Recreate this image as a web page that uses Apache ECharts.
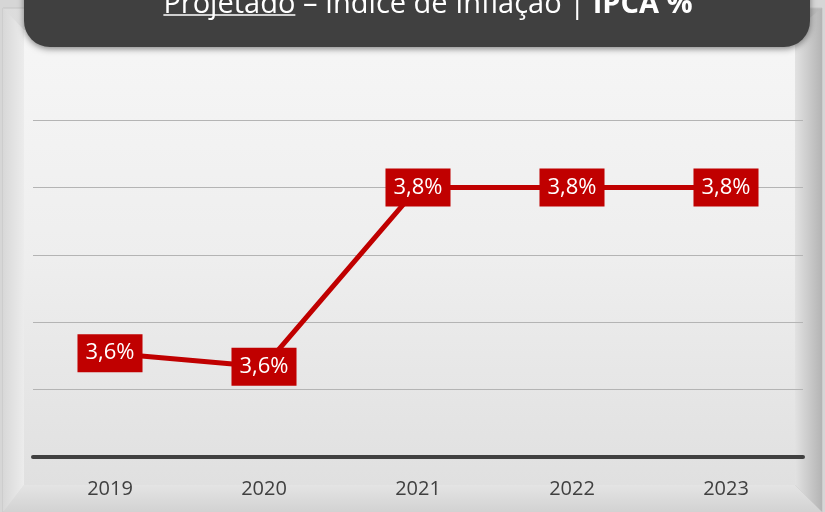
<!DOCTYPE html>
<html>
<head>
<meta charset="utf-8">
<script src="https://cdn.jsdelivr.net/npm/echarts@6/dist/echarts.min.js"></script>
<style>
  html, body { margin: 0; padding: 0; background: #d6d6d6; }
  #chart { width: 825px; height: 512px; }
</style>
</head>
<body>
<div id="chart"></div>
<script>
// dados
const anos = ['2019', '2020', '2021', '2022', '2023'];
const ipca = [3.627, 3.617, 3.75, 3.75, 3.75];
const eixoMin = 3.55, eixoMax = 3.80, eixoPasso = 0.05;

const tituloPartes = ['Projetado', ' – Índice de Inflação | ', 'IPCA %'];

const fonte = "'Open Sans', 'Noto Sans', sans-serif";
const tamTitulo = 29;

// mede o texto do título para posicionar as partes e o sublinhado
function medir(txt, peso) {
    const ctx = document.createElement('canvas').getContext('2d');
    ctx.font = peso + ' ' + tamTitulo + 'px ' + fonte;
    return ctx.measureText(txt).width;
}
const w0 = medir(tituloPartes[0], 'normal');
const w1 = medir(tituloPartes[1], 'normal');
const w2 = medir(tituloPartes[2], 'bold');
const x0 = 428 - (w0 + w1 + w2) / 2;
const yTitulo = 19;

const myChart = echarts.init(document.getElementById('chart'));

const option = {
    animation: false,
    backgroundColor: '#d6d6d6',
    graphic: [
        // moldura
        { type: 'rect', z: -10, shape: { x: 3, y: 8, width: 819, height: 504 },
          style: { fill: new echarts.graphic.LinearGradient(0, 0, 1, 0, [
              { offset: 0, color: '#dcdcdc' }, { offset: 0.5, color: '#ececec' }, { offset: 1, color: '#b8b8b8' }]),
              stroke: '#c4c4c4', lineWidth: 1 } },
        // chanfro esquerdo
        { type: 'polygon', z: -9, shape: { points: [[3, 8], [24, 30], [24, 485], [3, 512]] },
          style: { fill: new echarts.graphic.LinearGradient(0, 0, 1, 0, [
              { offset: 0, color: '#d8d8d8' }, { offset: 1, color: '#ececec' }]) } },
        // chanfro direito
        { type: 'polygon', z: -9, shape: { points: [[822, 8], [795, 30], [795, 485], [822, 512]] },
          style: { fill: new echarts.graphic.LinearGradient(0, 0, 1, 0, [
              { offset: 0, color: '#e2e2e2' }, { offset: 1, color: '#b4b4b4' }]) } },
        // chanfro inferior
        { type: 'polygon', z: -9, shape: { points: [[3, 512], [24, 485], [795, 485], [822, 512]] },
          style: { fill: new echarts.graphic.LinearGradient(0, 0, 0, 1, [
              { offset: 0, color: '#e4e4e4' }, { offset: 1, color: '#d2d2d2' }]) } },
        // painel interno
        { type: 'rect', z: -8, shape: { x: 24, y: 30, width: 771, height: 455 },
          style: { fill: new echarts.graphic.LinearGradient(0, 0, 0, 1, [
              { offset: 0, color: '#f6f6f6' }, { offset: 0.5, color: '#eeeeee' }, { offset: 1, color: '#e0e0e0' }]) } },
        // caixa do título
        { type: 'rect', z: 10, shape: { x: 24, y: -40, width: 786, height: 87, r: 26 },
          style: { fill: '#404040', shadowBlur: 6, shadowOffsetY: 2, shadowColor: 'rgba(0,0,0,0.45)' } },
        { type: 'text', z: 11, style: { x: x0, y: yTitulo, text: tituloPartes[0], fill: '#ffffff',
            font: 'normal ' + tamTitulo + 'px ' + fonte, textAlign: 'left', textVerticalAlign: 'bottom' } },
        { type: 'line', z: 11, shape: { x1: x0, y1: 15, x2: x0 + w0, y2: 15 },
          style: { stroke: '#ffffff', lineWidth: 1.5 } },
        { type: 'text', z: 11, style: { x: x0 + w0, y: yTitulo, text: tituloPartes[1], fill: '#ffffff',
            font: 'normal ' + tamTitulo + 'px ' + fonte, textAlign: 'left', textVerticalAlign: 'bottom' } },
        { type: 'text', z: 11, style: { x: x0 + w0 + w1, y: yTitulo, text: tituloPartes[2], fill: '#ffffff',
            font: 'bold ' + tamTitulo + 'px ' + fonte, textAlign: 'left', textVerticalAlign: 'bottom' } }
    ],
    grid: { left: 33, right: 22, top: 120, bottom: 55 },
    xAxis: {
        type: 'category',
        data: anos,
        boundaryGap: true,
        axisLine: { lineStyle: { color: '#404040', width: 4 } },
        axisTick: { show: false },
        axisLabel: { color: '#404040', fontSize: 20, fontFamily: fonte, margin: 22 }
    },
    yAxis: {
        type: 'value',
        min: eixoMin,
        max: eixoMax,
        interval: eixoPasso,
        axisLine: { show: false },
        axisTick: { show: false },
        axisLabel: { show: false },
        splitLine: { lineStyle: { color: '#b4b4b4', width: 1 } }
    },
    series: [{
        type: 'line',
        data: ipca,
        symbol: 'circle',
        symbolSize: 0,
        itemStyle: { color: '#c00000' },
        lineStyle: { color: '#c00000', width: 5 },
        labelLayout: { hideOverlap: false },
        label: {
            show: true,
            position: 'inside',
            formatter: p => p.value.toFixed(1).replace('.', ',') + '%',
            color: '#ffffff',
            fontSize: 22,
            lineHeight: 24,
            fontWeight: 500,
            fontFamily: fonte,
            backgroundColor: '#c00000',
            padding: [8, 8, 6, 8]
        }
    }]
};
myChart.setOption(option);
</script>
</body>
</html>
